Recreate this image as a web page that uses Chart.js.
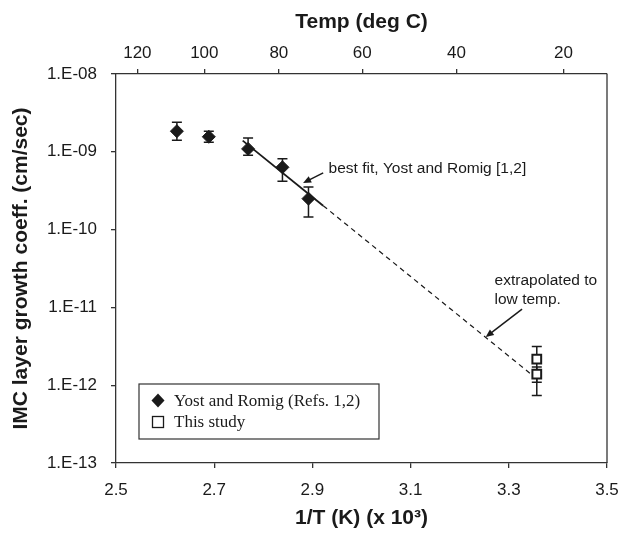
<!DOCTYPE html>
<html>
<head>
<meta charset="utf-8">
<script src="https://cdn.jsdelivr.net/npm/chart.js@4/dist/chart.umd.min.js"></script>
<style>
    body { margin: 0; background: #fff; }
    canvas { display: block; }
</style>
</head>
<body>
<canvas id="chart" width="622" height="534"></canvas>
<script>
/* IMC growth coefficient vs 1/T */

// Yost and Romig data (x = 1000/T in K, y = cm/sec)
const yostX = [2.624, 2.689, 2.769, 2.839, 2.892];
const yostY = [1.84e-9, 1.56e-9, 1.09e-9, 6.32e-10, 2.50e-10];
const yostHi = [2.40e-9, 1.84e-9, 1.51e-9, 8.17e-10, 3.53e-10];
const yostLo = [1.41e-9, 1.33e-9, 9.0e-10, 4.17e-10, 1.45e-10];

// This study
const studyX = [3.357, 3.357];
const studyY = [2.16e-12, 1.39e-12];
const studyHi = [3.14e-12, 1.71e-12];
const studyLo = [1.09e-12, 7.35e-13];

// best fit line and its extrapolation
const fitX = [2.758, 2.922];
const fitY = [1.39e-9, 2.03e-10];
const extrapX = [2.922, 3.347];
const extrapY = [2.03e-10, 1.36e-12];

// axes
const xTicks = [2.5, 2.7, 2.9, 3.1, 3.3, 3.5];
const yTicks = [1e-13, 1e-12, 1e-11, 1e-10, 1e-9, 1e-8];
const yTickLabels = ["1.E-13", "1.E-12", "1.E-11", "1.E-10", "1.E-09", "1.E-08"];
const tempTicks = [120, 100, 80, 60, 40, 20];

// notes: text, anchor (data units), arrow tail and tip (data units)
const notes = [
    {lines: ["best fit, Yost and Romig [1,2]"], x: 2.933, y: [6.08e-10],
     from: [2.922, 5.35e-10], to: [2.881, 3.98e-10]},
    {lines: ["extrapolated to", "low temp."], x: 3.271, y: [2.2e-11, 1.25e-11],
     from: [3.327, 9.5e-12], to: [3.253, 4.15e-12]},
];

const SANS = "'Liberation Sans', Arial, Helvetica, sans-serif";
const SERIF = "'Liberation Serif', 'Times New Roman', serif";
const INK = "#1a1a1a";

function toPoints(xs, ys) {
    return xs.map((x, i) => ({x: x, y: ys[i]}));
}

function kelvinInv(c) {
    return 1000 / (c + 273.15);
}

/* Error bars, drawn under the markers */
const errorBars = {
    id: "errorBars",
    beforeDatasetsDraw(chart) {
        const ctx = chart.ctx;
        const sx = chart.scales.x, sy = chart.scales.y;
        const sets = [[yostX, yostHi, yostLo], [studyX, studyHi, studyLo]];
        ctx.save();
        ctx.strokeStyle = INK;
        ctx.lineWidth = 1.5;
        sets.forEach(([xs, hi, lo]) => {
            xs.forEach((x, i) => {
                const px = sx.getPixelForValue(x);
                const top = sy.getPixelForValue(hi[i]);
                const bot = sy.getPixelForValue(lo[i]);
                ctx.beginPath();
                ctx.moveTo(px, top); ctx.lineTo(px, bot);
                ctx.moveTo(px - 5, top); ctx.lineTo(px + 5, top);
                ctx.moveTo(px - 5, bot); ctx.lineTo(px + 5, bot);
                ctx.stroke();
            });
        });
        ctx.restore();
    }
};

function arrow(ctx, x1, y1, x2, y2) {
    const ang = Math.atan2(y2 - y1, x2 - x1);
    const len = 8, wid = 3.5;
    ctx.beginPath();
    ctx.moveTo(x1, y1);
    ctx.lineTo(x2 - Math.cos(ang) * len * 0.8, y2 - Math.sin(ang) * len * 0.8);
    ctx.stroke();
    ctx.beginPath();
    ctx.moveTo(x2, y2);
    ctx.lineTo(x2 - Math.cos(ang) * len - Math.sin(ang) * wid, y2 - Math.sin(ang) * len + Math.cos(ang) * wid);
    ctx.lineTo(x2 - Math.cos(ang) * len + Math.sin(ang) * wid, y2 - Math.sin(ang) * len - Math.cos(ang) * wid);
    ctx.closePath();
    ctx.fill();
}

/* Frame, notes with arrows and the boxed legend */
const decorations = {
    id: "decorations",
    afterDraw(chart) {
        const ctx = chart.ctx;
        const area = chart.chartArea;
        const sx = chart.scales.x, sy = chart.scales.y;
        ctx.save();

        // right edge of the frame
        ctx.strokeStyle = "#333";
        ctx.lineWidth = 1.3;
        ctx.beginPath();
        ctx.moveTo(area.right, area.top);
        ctx.lineTo(area.right, area.bottom);
        ctx.stroke();

        // notes
        ctx.fillStyle = INK;
        ctx.strokeStyle = INK;
        ctx.lineWidth = 1.5;
        ctx.font = "15.5px " + SANS;
        ctx.textBaseline = "middle";
        ctx.textAlign = "left";
        notes.forEach((n) => {
            n.lines.forEach((t, i) => {
                ctx.fillText(t, sx.getPixelForValue(n.x), sy.getPixelForValue(n.y[i]));
            });
            arrow(ctx, sx.getPixelForValue(n.from[0]), sy.getPixelForValue(n.from[1]),
                sx.getPixelForValue(n.to[0]), sy.getPixelForValue(n.to[1]));
        });

        // legend
        const lx = area.left + 23, ly = area.top + 310, lw = 240, lh = 55;
        ctx.fillStyle = "#fff";
        ctx.fillRect(lx, ly, lw, lh);
        ctx.strokeStyle = "#333";
        ctx.lineWidth = 1.2;
        ctx.strokeRect(lx, ly, lw, lh);

        const rows = [ly + 16.5, ly + 38];
        const mx = lx + 19;
        // diamond
        ctx.fillStyle = INK;
        ctx.beginPath();
        ctx.moveTo(mx, rows[0] - 7);
        ctx.lineTo(mx + 6.5, rows[0]);
        ctx.lineTo(mx, rows[0] + 7);
        ctx.lineTo(mx - 6.5, rows[0]);
        ctx.closePath();
        ctx.fill();
        // square
        ctx.strokeStyle = INK;
        ctx.lineWidth = 1.3;
        ctx.strokeRect(mx - 5.5, rows[1] - 5.5, 11, 11);

        ctx.fillStyle = INK;
        ctx.font = "17px " + SERIF;
        ctx.fillText(chart.data.datasets[0].label, lx + 35, rows[0] + 1);
        ctx.fillText(chart.data.datasets[1].label, lx + 35, rows[1] + 1);

        ctx.restore();
    }
};

/* fixed box sizes so the plot area lands where the reference has it */
function fixHeight(h) {
    return (scale) => {
        scale.height = h;
        scale.paddingLeft = 0;
        scale.paddingRight = 0;
    };
}

const tickFont = {family: SANS, size: 17};
const titleFont = {family: SANS, size: 21, weight: "bold"};
const gridStyle = {drawOnChartArea: false, drawTicks: true, tickLength: 5, color: "#333", lineWidth: 1.3};
const borderStyle = {display: true, color: "#333", width: 1.3};

new Chart(document.getElementById("chart"), {
    type: "scatter",
    data: {
        datasets: [
            {
                label: "Yost and Romig (Refs. 1,2)",
                data: toPoints(yostX, yostY),
                pointStyle: "rectRot",
                radius: 6.5,
                backgroundColor: INK,
                borderColor: INK,
                borderWidth: 1,
            },
            {
                label: "This study",
                data: toPoints(studyX, studyY),
                pointStyle: "rect",
                radius: 6.2,
                backgroundColor: "#fff",
                borderColor: INK,
                borderWidth: 2,
            },
            {
                label: "fit",
                data: toPoints(fitX, fitY),
                showLine: true,
                pointRadius: 0,
                borderColor: INK,
                borderWidth: 1.8,
            },
            {
                label: "extrapolated",
                data: toPoints(extrapX, extrapY),
                showLine: true,
                pointRadius: 0,
                borderColor: INK,
                borderWidth: 1.2,
                borderDash: [5, 4],
            },
        ],
    },
    options: {
        responsive: false,
        animation: false,
        layout: {autoPadding: false, padding: {left: 0, right: 15, top: 0, bottom: 0}},
        plugins: {
            legend: {display: false},
            tooltip: {enabled: false},
        },
        scales: {
            x: {
                type: "linear",
                position: "bottom",
                min: 2.5,
                max: 3.5,
                afterBuildTicks: (scale) => { scale.ticks = xTicks.map((v) => ({value: v})); },
                afterFit: fixHeight(71),
                ticks: {
                    font: tickFont, color: INK, padding: 12, maxRotation: 0,
                    callback: (v) => v.toFixed(1),
                },
                grid: gridStyle,
                border: borderStyle,
                title: {
                    display: true, text: "1/T (K) (x 10³)", font: titleFont, color: INK,
                    padding: {top: 0, bottom: 3},
                },
            },
            x2: {
                type: "linear",
                position: "top",
                min: 2.5,
                max: 3.5,
                afterBuildTicks: (scale) => { scale.ticks = tempTicks.map((t) => ({value: kelvinInv(t)})); },
                afterFit: fixHeight(74),
                ticks: {
                    font: tickFont, color: INK, padding: 5, maxRotation: 0,
                    callback: (v, i) => String(tempTicks[i]),
                },
                grid: gridStyle,
                border: borderStyle,
                title: {
                    display: true, text: "Temp (deg C)", font: titleFont, color: INK,
                    padding: {top: 10, bottom: 0},
                },
            },
            y: {
                type: "logarithmic",
                position: "left",
                min: 1e-13,
                max: 1e-8,
                afterBuildTicks: (scale) => { scale.ticks = yTicks.map((v) => ({value: v})); },
                afterFit: (scale) => { scale.width = 116; },
                ticks: {
                    font: tickFont, color: INK, padding: 14,
                    callback: (v) => yTickLabels[yTicks.indexOf(v)] ?? "",
                },
                grid: gridStyle,
                border: borderStyle,
                title: {
                    display: true, text: "IMC layer growth coeff. (cm/sec)", font: titleFont, color: INK,
                    padding: {top: 9, bottom: 0},
                },
            },
        },
    },
    plugins: [errorBars, decorations],
});
</script>
</body>
</html>
